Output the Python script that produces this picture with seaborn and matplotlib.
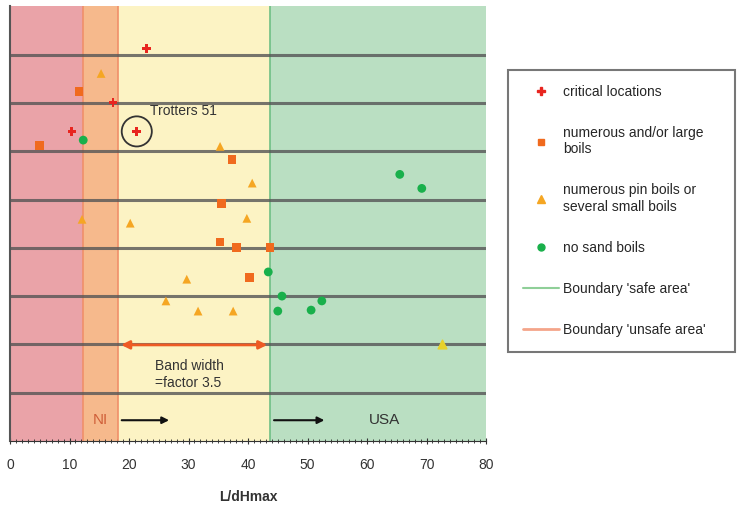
import pandas as pd
import numpy as np
import matplotlib
matplotlib.use('Agg')
import matplotlib.pyplot as plt
import seaborn as sns
from matplotlib.lines import Line2D

# data (y has no scale, rows 0..9)
crit_x = [23.0, 17.3, 10.4, 21.3]
crit_y = [8.13, 7.01, 6.41, 6.41]
large_x = [11.6, 4.9, 37.3, 35.6, 35.3, 38.0, 43.7, 40.2]
large_y = [7.24, 6.12, 5.83, 4.92, 4.12, 4.01, 4.01, 3.39]
pin_x = [15.3, 35.3, 40.7, 39.8, 20.2, 12.1, 29.7, 26.2, 31.6, 37.5]
pin_y = [7.61, 6.10, 5.34, 4.61, 4.51, 4.59, 3.35, 2.90, 2.69, 2.69]
yellow_x = [72.6]
yellow_y = [2.01]
none_x = [12.3, 65.5, 69.2, 43.4, 45.7, 45.0, 50.6, 52.4]
none_y = [6.23, 5.52, 5.23, 3.50, 3.00, 2.69, 2.71, 2.90]

zones = [0, 12.2, 18.2, 43.7, 80]
zone_colors = ['#eaa3a8', '#f6b98c', '#fcf3c4', '#badfc2']

labels = ['critical locations', 'numerous and/or large\nboils',
          'numerous pin boils or\nseveral small boils', 'no sand boils']

df = pd.concat([
    pd.DataFrame({'x': crit_x, 'y': crit_y, 'kind': labels[0]}),
    pd.DataFrame({'x': large_x, 'y': large_y, 'kind': labels[1]}),
    pd.DataFrame({'x': pin_x, 'y': pin_y, 'kind': labels[2]}),
    pd.DataFrame({'x': none_x, 'y': none_y, 'kind': labels[3]}),
])

pal = {labels[0]: '#e8251f', labels[1]: '#f06a1e', labels[2]: '#f5a623', labels[3]: '#19b04b'}
marks = {labels[0]: 'P', labels[1]: 's', labels[2]: '^', labels[3]: 'o'}

sns.set_style('white')
plt.rcParams['font.family'] = ['Liberation Sans', 'DejaVu Sans']

fig = plt.figure(figsize=(7.38, 5.09), dpi=100)
ax = fig.add_axes([0.0136, 0.1336, 0.645, 0.854])

for i in range(4):
    ax.axvspan(zones[i], zones[i + 1], color=zone_colors[i], lw=0, zorder=0)
ax.axvline(12.2, color='#f08f6a', lw=1.2, zorder=1)
ax.axvline(18.2, color='#f08f6a', lw=1.2, zorder=1)
ax.axvline(43.7, color='#6fbf85', lw=1.2, zorder=1)

for k in range(1, 9):
    ax.axhline(k, color='#555555', lw=2.2, alpha=0.8, zorder=2)

sns.scatterplot(data=df, x='x', y='y', hue='kind', style='kind', palette=pal,
                markers=marks, s=40, edgecolor='none', legend=False, ax=ax, zorder=4)
ax.scatter(yellow_x, yellow_y, marker='^', s=40, color='#e8d22a', zorder=4)

# Trotters 51
ax.scatter([crit_x[3]], [crit_y[3]], marker='o', s=470, facecolors='none',
           edgecolors='#333333', linewidths=1.3, zorder=5)
ax.text(23.5, 6.75, 'Trotters 51', fontsize=10, color='#333333')

# band width arrow
ax.annotate('', xy=(18.2, 1.99), xytext=(43.7, 1.99),
            arrowprops=dict(arrowstyle='<|-|>', color='#ee5a24', lw=2, mutation_scale=12), zorder=5)
ax.text(24.3, 1.7, 'Band width\n=factor 3.5', fontsize=10, color='#333333', va='top', linespacing=1.25)

ax.text(15.2, 0.43, 'NI', fontsize=11, color='#d0603a', ha='center', va='center')
ax.annotate('', xy=(27.2, 0.43), xytext=(18.3, 0.43),
            arrowprops=dict(arrowstyle='-|>', color='#111111', lw=1.5, mutation_scale=10))
ax.text(63, 0.43, 'USA', fontsize=11, color='#333333', ha='center', va='center')
ax.annotate('', xy=(53.3, 0.43), xytext=(43.9, 0.43),
            arrowprops=dict(arrowstyle='-|>', color='#111111', lw=1.5, mutation_scale=10))

ax.set_xlim(0, 80)
ax.set_ylim(0, 9)
ax.set_yticks([])
ax.set_ylabel('')
ax.set_xticks(np.arange(0, 81, 10))
ax.set_xticks(np.arange(0, 81, 1), minor=True)
ax.tick_params(axis='x', which='major', length=5, labelsize=10, colors='#333333',
               direction='inout', bottom=True, pad=10)
ax.tick_params(axis='x', which='minor', length=2.5, direction='inout', bottom=True)
ax.set_xlabel('L/dHmax', fontsize=10, fontweight='bold', color='#333333', labelpad=13)
for s in ['top', 'right']:
    ax.spines[s].set_visible(False)
ax.spines['left'].set_color('#555555')
ax.spines['left'].set_linewidth(1.5)
ax.spines['bottom'].set_color('#333333')

handles = [
    Line2D([], [], ls='', marker='P', color='#e8251f', ms=6),
    Line2D([], [], ls='', marker='s', color='#f06a1e', ms=5),
    Line2D([], [], ls='', marker='^', color='#f5a623', ms=6),
    Line2D([], [], ls='', marker='o', color='#19b04b', ms=5),
    Line2D([], [], color='#8fcf98', lw=1.5),
    Line2D([], [], color='#f4a58a', lw=2),
]
leg_labels = labels + ["Boundary 'safe area'", "Boundary 'unsafe area'"]
leg = fig.legend(handles, leg_labels, loc='upper left',
                 bbox_to_anchor=(0.688, 0.2, 0.308, 0.663), mode='expand',
                 fontsize=10, frameon=True, fancybox=False, labelspacing=1.95,
                 handlelength=2.6, handletextpad=0.3, borderpad=1.1, borderaxespad=0,
                 edgecolor='#555555')
leg.get_frame().set_linewidth(1.5)

fig.savefig('out.png', dpi=100)
